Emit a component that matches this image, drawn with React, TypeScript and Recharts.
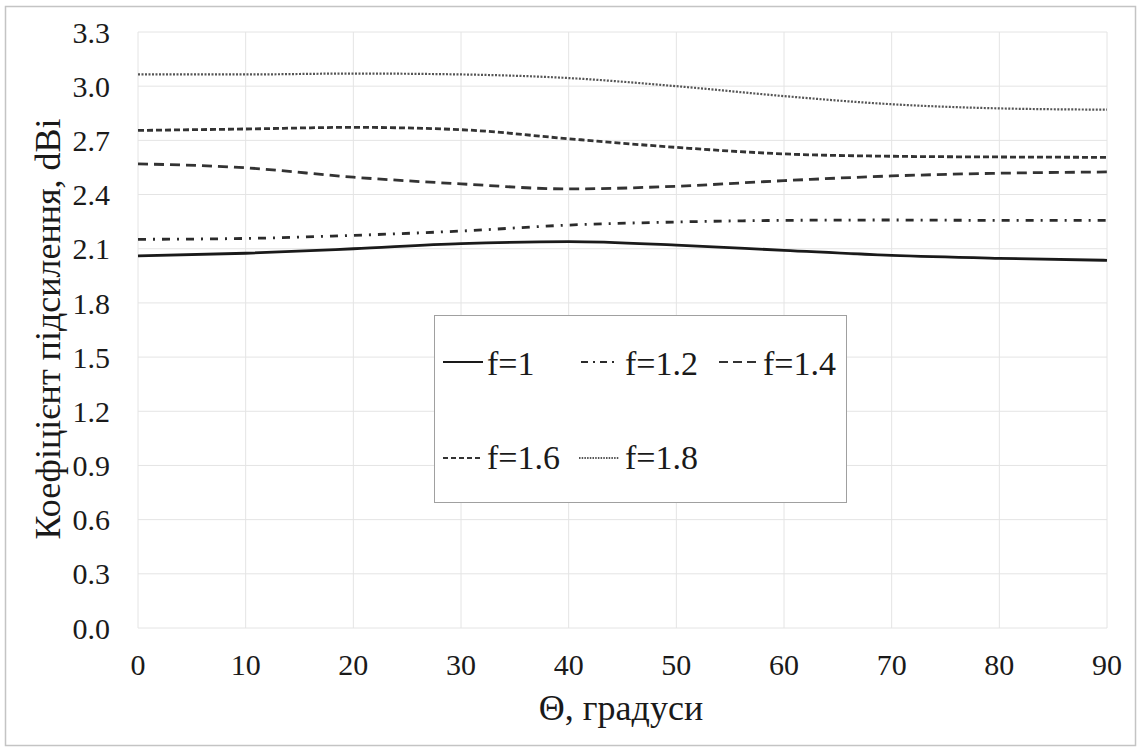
import { LineChart, Line, XAxis, YAxis, CartesianGrid, Legend } from 'recharts';

// кут, градуси
const theta = [0, 10, 20, 30, 40, 50, 60, 70, 80, 90];

// коефіцієнт підсилення для кожної частоти
const gainF1 = [2.06, 2.075, 2.1, 2.128, 2.139, 2.12, 2.091, 2.063, 2.047, 2.036];
const gainF12 = [2.152, 2.157, 2.174, 2.198, 2.231, 2.248, 2.257, 2.259, 2.257, 2.257];
const gainF14 = [2.57, 2.548, 2.496, 2.459, 2.431, 2.446, 2.477, 2.503, 2.518, 2.525];
const gainF16 = [2.755, 2.763, 2.772, 2.759, 2.709, 2.661, 2.625, 2.612, 2.608, 2.606];
const gainF18 = [3.065, 3.065, 3.07, 3.065, 3.045, 3.0, 2.945, 2.9, 2.877, 2.87];

const xTicks = [0, 10, 20, 30, 40, 50, 60, 70, 80, 90];
const yTicks = [0, 0.3, 0.6, 0.9, 1.2, 1.5, 1.8, 2.1, 2.4, 2.7, 3.0, 3.3];

const data = theta.map((t, i) => ({
  theta: t,
  f1: gainF1[i],
  f12: gainF12[i],
  f14: gainF14[i],
  f16: gainF16[i],
  f18: gainF18[i],
}));

const FONT = 'Liberation Serif, Times New Roman, serif';

// стилі ліній
const SERIES = [
  { key: 'f1', name: 'f=1', color: '#1a1a1a', dash: undefined, width: 2.8, legendDash: undefined },
  { key: 'f12', name: 'f=1.2', color: '#2b2b2b', dash: '8 7 2 7', width: 2.8, legendDash: '7 5 2 5' },
  { key: 'f14', name: 'f=1.4', color: '#333333', dash: '10 6', width: 2.8, legendDash: '9 5' },
  { key: 'f16', name: 'f=1.6', color: '#333333', dash: '6 3', width: 2.8, legendDash: '5 3' },
  { key: 'f18', name: 'f=1.8', color: '#555555', dash: '2 1.5', width: 2.2, legendDash: '1.5 1.2' },
];

// позиції елементів легенди всередині рамки
const LEGEND_POS = [
  { x1: 8, x2: 48, tx: 52, row: 0 },
  { x1: 146, x2: 179, tx: 190, row: 0 },
  { x1: 284, x2: 326, tx: 328, row: 0 },
  { x1: 8, x2: 48, tx: 52, row: 1 },
  { x1: 144, x2: 184, tx: 190, row: 1 },
];
const ROW_LINE_Y = [46, 142];
const ROW_TEXT_Y = [59, 153];

const renderLegend = () => (
  <svg width={413} height={188} style={{ display: 'block', fontFamily: FONT }}>
    {SERIES.map((s, i) => {
      const p = LEGEND_POS[i];
      return (
        <g key={s.key}>
          <line
            x1={p.x1}
            x2={p.x2}
            y1={ROW_LINE_Y[p.row]}
            y2={ROW_LINE_Y[p.row]}
            stroke={s.color}
            strokeWidth={1.8}
            strokeDasharray={s.legendDash}
          />
          <text x={p.tx} y={ROW_TEXT_Y[p.row]} fontSize={34} fill="#1a1a1a">
            {s.name}
          </text>
        </g>
      );
    })}
  </svg>
);

export default function App() {
  return (
    <div
      style={{
        position: 'absolute',
        left: 0,
        top: 0,
        width: 1141,
        height: 747,
        background: '#fff',
        fontFamily: FONT,
      }}
    >
      <LineChart
        width={1141}
        height={747}
        data={data}
        margin={{ top: 32, right: 34, left: 0, bottom: 0 }}
        style={{ fontFamily: FONT }}
      >
        <CartesianGrid stroke="#e4e4e4" strokeWidth={1} />
        <XAxis
          dataKey="theta"
          type="number"
          domain={[0, 90]}
          ticks={xTicks}
          height={119}
          axisLine={false}
          tickLine={false}
          tickSize={0}
          tickMargin={26}
          tick={{ fontSize: 30, fill: '#1a1a1a', style: { fontFamily: FONT } }}
        />
        <YAxis
          type="number"
          domain={[0, 3.3]}
          ticks={yTicks}
          width={138}
          axisLine={false}
          tickLine={false}
          tickSize={0}
          tickMargin={28}
          tickFormatter={(v: number) => v.toFixed(1)}
          tick={{ fontSize: 30, fill: '#1a1a1a', style: { fontFamily: FONT } }}
        />
        <Legend
          layout="horizontal"
          verticalAlign="middle"
          align="center"
          content={renderLegend}
          wrapperStyle={{
            left: 434,
            top: 315,
            width: 413,
            height: 188,
            border: '1.5px solid #a0a0a0',
            background: '#fff',
            boxSizing: 'border-box',
          }}
        />
        {SERIES.map((s) => (
          <Line
            key={s.key}
            dataKey={s.key}
            name={s.name}
            type="monotone"
            stroke={s.color}
            strokeWidth={s.width}
            strokeDasharray={s.dash}
            dot={false}
            activeDot={false}
            isAnimationActive={false}
          />
        ))}
      </LineChart>
      <svg
        width={1141}
        height={747}
        style={{ position: 'absolute', left: 0, top: 0, pointerEvents: 'none', fontFamily: FONT }}
      >
        <rect x={5.5} y={6.5} width={1130} height={739} fill="none" stroke="#c4c4c4" strokeWidth={1.5} />
        <text x={621} y={720} textAnchor="middle" fontSize={36} fill="#1a1a1a">
          Θ, градуси
        </text>
        <text
          transform="translate(60, 329) rotate(-90)"
          textAnchor="middle"
          fontSize={36}
          fill="#1a1a1a"
        >
          Коефіцієнт підсилення, dBi
        </text>
      </svg>
    </div>
  );
}
